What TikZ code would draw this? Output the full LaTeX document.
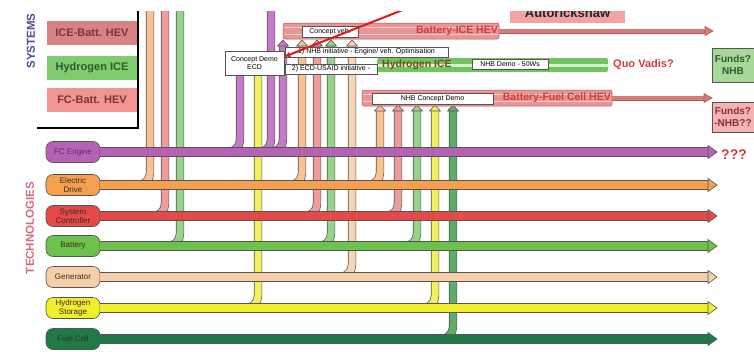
\documentclass[tikz,border=0pt]{standalone}
\usepackage{fontspec}
\setmainfont{Liberation Sans}
\usetikzlibrary{arrows.meta}

\definecolor{cpurple}{HTML}{B462B4}
\definecolor{corange}{HTML}{F4A04E}
\definecolor{cred}{HTML}{E44A4A}
\definecolor{cgreen}{HTML}{6CC24C}
\definecolor{cpeach}{HTML}{F6CFAA}
\definecolor{cyellow}{HTML}{F1EE2E}
\definecolor{cdkgreen}{HTML}{1F7A47}
\definecolor{fpurple}{HTML}{C47AC4}
\definecolor{forange}{HTML}{F7C392}
\definecolor{fpink}{HTML}{F09C9C}
\definecolor{fgreen}{HTML}{98D288}
\definecolor{fpeach}{HTML}{F7D5B6}
\definecolor{fyellow}{HTML}{F2F060}
\definecolor{fdkgreen}{HTML}{5EAC6A}
\definecolor{sysred}{HTML}{D98282}
\definecolor{sysgreen}{HTML}{80CB6E}
\definecolor{syspink}{HTML}{F39494}
\definecolor{sysredtxt}{HTML}{7A3636}
\definecolor{sysgreentxt}{HTML}{2F5A2A}
\definecolor{bandpink}{HTML}{E79595}
\definecolor{bandlite}{HTML}{F7CFCF}
\definecolor{bandedge}{HTML}{B85454}
\definecolor{thinpink}{HTML}{D97A7A}
\definecolor{hgreen}{HTML}{72C460}
\definecolor{hlite}{HTML}{D6F0CF}
\definecolor{txtred}{HTML}{D23C3C}
\definecolor{txtbrown}{HTML}{7C4628}
\definecolor{sysblue}{HTML}{4B4B9E}
\definecolor{techpink}{HTML}{D46A7C}
\definecolor{techpurple}{HTML}{6E2470}
\definecolor{techtxt}{HTML}{3A2A22}
\definecolor{linegray}{HTML}{555555}
\definecolor{fundgreen}{HTML}{A6D898}
\definecolor{fundpink}{HTML}{F4B4B4}
\definecolor{fundgreentxt}{HTML}{2E5A2E}
\definecolor{fundpinktxt}{HTML}{8A3030}
\definecolor{autopink}{HTML}{F3A3A3}
\definecolor{redline}{HTML}{E01818}

\tikzstyle{vlabel}=[rotate=90,inner sep=0pt,font=\bfseries\fontsize{11.5}{12}\selectfont]
\tikzstyle{sysbox}=[minimum width=90pt,minimum height=24pt,inner sep=0pt,font=\bfseries\fontsize{11}{12}\selectfont]
\tikzstyle{tech}=[rounded corners=7pt,draw=linegray,line width=0.6pt,minimum width=54pt,minimum height=21pt,inner sep=0pt,align=center,text=techtxt,font=\fontsize{8}{8.5}\selectfont]
\tikzstyle{note}=[draw=linegray,fill=white,line width=0.6pt,inner sep=0pt,align=center,font=\fontsize{7}{8}\selectfont]
\tikzstyle{sysband}=[draw=bandedge,line width=0.5pt,inner sep=0pt,rounded corners=2pt]
\tikzstyle{redtxt}=[text=txtred,inner sep=0pt,font=\bfseries\fontsize{10.5}{11}\selectfont]
\tikzstyle{fund}=[draw=linegray,line width=0.8pt,inner sep=0pt,minimum width=46pt]
\tikzstyle{fundtxt}=[inner sep=0pt,align=center,font=\bfseries\fontsize{10}{11.5}\selectfont]
\tikzstyle{hband}=[line width=8pt,preaction={draw=linegray,line width=9.6pt}]
\tikzstyle{vband}=[line width=7pt,rounded corners=12pt,preaction={draw=linegray,line width=8.4pt}]
\tikzstyle{tband}=[line width=3.6pt,draw=thinpink,preaction={draw=bandedge,line width=5pt}]
\tikzstyle{headtri}=[draw=linegray,line width=0.6pt]

\begin{document}
\begin{tikzpicture}[x=1pt,y=-1pt]
    \useasboundingbox (0,0) rectangle (754,351);
    \clip (0,11) rectangle (754,351);

    % systems
    \draw[line width=1.5pt] (138,0) -- (138,128) -- (37,128);
    \node[vlabel,text=sysblue] (syslab) at (31,41) {SYSTEMS};
    \node[sysbox,fill=sysred,text=sysredtxt] (sice) at (92,32.5) {ICE-Batt. HEV};
    \node[sysbox,fill=sysgreen,text=sysgreentxt] (sh2) at (92,67.5) {Hydrogen ICE};
    \node[sysbox,fill=syspink,text=sysredtxt] (sfc) at (92,100) {FC-Batt. HEV};

    % technologies
    \node[vlabel,text=techpink] (techlab) at (30,228) {TECHNOLOGIES};
    \node[tech,fill=cpurple,text=techpurple] (fce) at (73,152) {FC Engine};
    \node[tech,fill=corange] (ed) at (73,185) {Electric\\Drive};
    \node[tech,fill=cred] (sc) at (73,216) {System\\Controller};
    \node[tech,fill=cgreen] (bat) at (73,246) {Battery};
    \node[tech,fill=cpeach] (gen) at (73,277) {Generator};
    \node[tech,fill=cyellow] (hs) at (73,308) {Hydrogen\\Storage};
    \node[tech,fill=cdkgreen] (fc) at (73,339) {Fuel Cell};

    % feeds from the systems down into the technologies
    \foreach \x/\yt/\n/\col [count=\i] in {150/0/ed/forange,165/0/sc/fpink,180/0/bat/fgreen,
        240/76/fce/fpurple,258/76/hs/fyellow,271/0/fce/fpurple,283/46/fce/fpurple,
        302/46/ed/forange,317/46/sc/fpink,331/46/bat/fgreen,352/46/gen/fpeach,
        380/111/ed/forange,398/111/sc/fpink,417/111/bat/fgreen,435/111/hs/fyellow,453/111/fc/fdkgreen}
    {
        \coordinate (f\i) at (\x,\yt);
        \draw[vband,draw=\col] (f\i) |- (\n.east);
    }
    \foreach \x/\yt/\col in {283/46/fpurple,302/46/forange,317/46/fpink,331/46/fgreen,352/46/fpeach,
        380/111/forange,398/111/fpink,417/111/fgreen,435/111/fyellow,453/111/fdkgreen}
        \filldraw[headtri,fill=\col] (\x-5.5,\yt) -- (\x,\yt-6) -- (\x+5.5,\yt) -- cycle;

    % technology lines
    \foreach \n/\y/\col in {fce/152/cpurple,ed/185/corange,sc/216/cred,bat/246/cgreen,
        gen/277/cpeach,hs/308/cyellow,fc/339/cdkgreen}
    {
        \coordinate (e\n) at (708,\y);
        \draw[hband,draw=\col] (\n.east) -- (e\n);
        \filldraw[headtri,fill=\col] (708,\y-6.5) -- (717,\y) -- (708,\y+6.5) -- cycle;
    }
    \node[redtxt,font=\bfseries\fontsize{14}{14}\selectfont,anchor=west] (qqq) at (721,155) {???};

    % battery-ICE HEV
    \node[sysband,fill=bandpink,minimum width=216pt,minimum height=16pt] (bice) at (391,31) {};
    \draw[bandlite,line width=1.3pt] (284,27.5) -- (498,27.5) (284,34.5) -- (498,34.5);
    \node[redtxt,anchor=east] (bicetxt) at (498,31) {Battery-ICE HEV};
    \coordinate (biceend) at (705,31);
    \draw[tband] (bice.east) -- (biceend);
    \filldraw[headtri,draw=bandedge,fill=thinpink] (705,26.5) -- (713,31) -- (705,35.5) -- cycle;
    \node[note,minimum width=56pt,minimum height=11pt] (cveh) at (330,31.5) {Concept veh.};

    % hydrogen ICE
    \node[sysband,draw=none,fill=hgreen,minimum width=231pt,minimum height=14pt] (hice) at (492.5,65) {};
    \draw[hlite,line width=3pt] (377,65) -- (608,65);
    \node[redtxt,text=txtbrown,anchor=west] (hicetxt) at (382,65) {Hydrogen ICE};
    \node[note,minimum width=76pt,minimum height=10pt] (nhbdemo) at (510,64) {NHB Demo - 50Ws};
    \node[redtxt,font=\bfseries\fontsize{11}{12}\selectfont,anchor=west] (quo) at (613,65) {Quo Vadis?};

    % battery-fuel cell HEV
    \node[sysband,fill=bandpink,minimum width=250pt,minimum height=16pt] (bfc) at (487,98) {};
    \draw[bandlite,line width=1.3pt] (363,94.5) -- (611,94.5) (363,101.5) -- (611,101.5);
    \node[note,minimum width=121pt,minimum height=11pt] (nhbcd) at (432.5,98.5) {NHB Concept Demo};
    \node[redtxt,anchor=east] (bfctxt) at (611,98) {Battery-Fuel Cell HEV};
    \coordinate (bfcend) at (704,98);
    \draw[tband] (bfc.east) -- (bfcend);
    \filldraw[headtri,draw=bandedge,fill=thinpink] (704,93.5) -- (712,98) -- (704,102.5) -- cycle;

    % initiatives
    \node[note,minimum width=59pt,minimum height=24pt] (ecd) at (254.5,63) {Concept Demo\\ECD};
    \node[note,minimum width=163pt,minimum height=10pt] (init1) at (366.5,52) {1) NHB initiative - Engine/ veh. Optimisation};
    \node[note,minimum width=92pt,minimum height=10pt] (init2) at (331,69) {2) ECD-USAID initiative -};

    % autorickshaw
    \node[fill=autopink,minimum width=115pt,minimum height=30pt,inner sep=0pt] (auto) at (567.5,8) {};
    \node[anchor=base,inner sep=0pt,font=\bfseries\fontsize{13}{13}\selectfont,text=black!85] (autotxt) at (567.5,17) {Autorickshaw};
    \coordinate (rk) at (428,0);
    \draw[redline,line width=2pt,-{Latex[length=6pt,width=6pt]}] (rk) -- ([yshift=-6pt]ecd.north east);

    % funds
    \node[fund,fill=fundgreen,minimum height=34pt] (fnhb) at (735,65) {};
    \node[fundtxt,text=fundgreentxt] (fnhbtxt) at (733,65) {Funds?\\NHB};
    \node[fund,fill=fundpink,minimum height=30pt] (fnhb2) at (735,117) {};
    \node[fundtxt,text=fundpinktxt] (fnhb2txt) at (733,117) {Funds?\\-NHB??};
\end{tikzpicture}
\end{document}
